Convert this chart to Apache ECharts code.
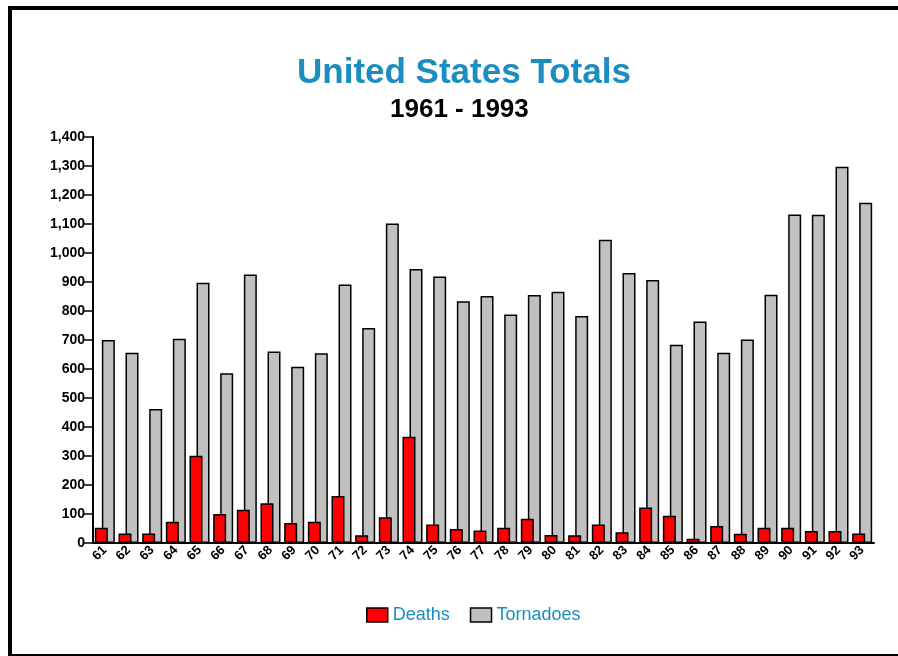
<!DOCTYPE html>
<html>
<head>
<meta charset="utf-8">
<script src="https://cdn.jsdelivr.net/npm/echarts@6/dist/echarts.min.js"></script>
<style>
html,body{margin:0;padding:0;background:#fff;}
#chart{width:898px;height:656px;}
</style>
</head>
<body>
<div id="chart"></div>
<script>
const years = ['61','62','63','64','65','66','67','68','69','70','71','72','73','74','75','76','77','78','79','80','81','82','83','84','85','86','87','88','89','90','91','92','93'];
const deaths = [53,33,33,73,301,100,115,137,69,73,162,27,89,366,64,48,43,53,84,28,27,64,37,122,94,15,59,32,53,53,41,41,33];
const tornadoes = [700,656,462,704,897,585,926,660,608,654,891,741,1102,945,919,834,852,788,855,866,783,1046,931,907,684,764,656,702,856,1133,1132,1297,1173];
const titleText = 'United States Totals';
const subtitleText = '1961 - 1993';

const chart = echarts.init(document.getElementById('chart'), null, {renderer:'canvas'});
const teal = '#1b8dc0';
const font = '"Liberation Sans", Arial, Helvetica, sans-serif';
chart.setOption({
  animation:false,
  backgroundColor:'#ffffff',
  graphic:[{
    type:'rect', shape:{x:10,y:8,width:900,height:648},
    style:{fill:'none',stroke:'#000',lineWidth:4}, silent:true
  }],
  title:[{
    text:titleText, left:292, top:51,
    textStyle:{color:teal,fontSize:35,fontWeight:'bold',fontFamily:font}
  },{
    text:subtitleText, left:385, top:92,
    textStyle:{color:'#000',fontSize:26,fontWeight:'bold',fontFamily:font}
  }],
  legend:{
    data:['Deaths','Tornadoes'],
    left:361, top:601, icon:'rect',
    itemWidth:21, itemHeight:14, itemGap:20,
    textStyle:{color:teal,fontSize:18,fontFamily:font},
    itemStyle:{borderColor:'#000',borderWidth:1.5}
  },
  grid:{left:93,right:24,top:137,bottom:113,containLabel:false},
  xAxis:{
    type:'category', data:years,
    axisLine:{lineStyle:{color:'#000',width:2}},
    axisTick:{alignWithLabel:true,length:10,lineStyle:{color:'#000',width:1.5}},
    axisLabel:{rotate:45,margin:5,color:'#000',fontSize:13,fontWeight:'bold',fontFamily:font,interval:0}
  },
  yAxis:{
    type:'value', min:0, max:1400, interval:100,
    splitLine:{show:false},
    axisLine:{show:true,lineStyle:{color:'#000',width:2}},
    axisTick:{show:true,length:10,lineStyle:{color:'#000',width:1.5}},
    axisLabel:{margin:8,color:'#000',fontSize:14,fontWeight:'bold',fontFamily:font,
      formatter:v=>v.toLocaleString('en-US')}
  },
  series:[{
    name:'Deaths', type:'bar', data:deaths, z:3,
    barWidth:13, barGap:'-46%',
    itemStyle:{color:'#ff0000',borderColor:'#000',borderWidth:1.5}
  },{
    name:'Tornadoes', type:'bar', data:tornadoes, z:2,
    barWidth:13,
    itemStyle:{color:'#c0c0c0',borderColor:'#000',borderWidth:1.5}
  }]
});
</script>
</body>
</html>
